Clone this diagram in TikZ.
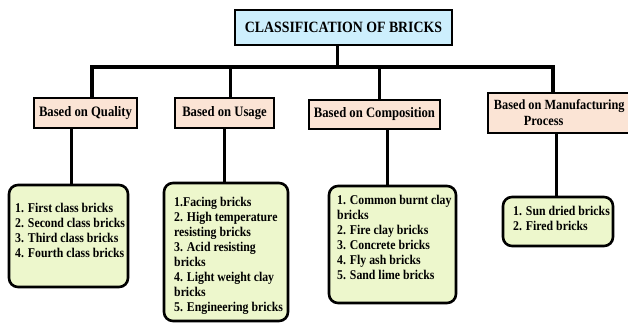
\documentclass[tikz,border=0pt]{standalone}
\usepackage{fontspec}
\setmainfont{Liberation Serif}[FakeStretch=0.88]
\definecolor{titleblue}{HTML}{CDEFFD}
\definecolor{peach}{HTML}{FBE4D5}
\definecolor{listgreen}{HTML}{EDF7CC}
\begin{document}
\begin{tikzpicture}[x=1pt,y=-1pt,
  titlebox/.style={draw, line width=1.8pt, fill=titleblue, font=\fontsize{15.7}{18}\selectfont\bfseries, inner sep=0pt},
  catbox/.style={draw, line width=1.8pt, fill=peach, font=\fontsize{14.4}{16}\selectfont\bfseries, inner sep=0pt},
  listbox/.style={draw, line width=2.6pt, fill=listgreen, rounded corners=9pt, inner sep=0pt},
  listtext/.style={anchor=north west, inner sep=0pt, align=left, font=\fontsize{13.4}{15}\selectfont\bfseries},
  conn/.style={line width=3pt},
  bar/.style={line width=3.6pt, line join=miter}]
\useasboundingbox (0,0) rectangle (628,323);
\clip (0,0) rectangle (628,323);

% top
\node[titlebox, minimum width=217pt, minimum height=35pt] (title) at (343.5,27.5) {CLASSIFICATION OF BRICKS};

% categories
\node[catbox, minimum width=103pt, minimum height=30pt] (qual) at (85.5,113) {Based on Quality};
\node[catbox, minimum width=99pt, minimum height=30pt] (usage) at (224.5,113) {Based on Usage};
\node[catbox, minimum width=131pt, minimum height=29pt] (comp) at (374.5,114.5) {Based on Composition};
\node[catbox, anchor=west, minimum height=40pt, inner xsep=6pt, align=left,
      font=\fontsize{14}{16}\selectfont\bfseries] (mfg) at (487,113) {Based on Manufacturing\\\hspace*{30pt}Process};

% junction coordinates
\coordinate (jt) at (337,67);
\coordinate (jq) at (92,67);
\coordinate (ju) at (230,67);
\coordinate (jc) at (379,67);
\coordinate (jm) at (553,67);

\draw[conn] (jt |- title.south) -- (jt);
\draw[bar] (jq |- qual.north) -- (jq) -- (jm) -- (jm |- mfg.north);
\draw[conn] (ju) -- (ju |- usage.north);
\draw[conn] (jc) -- (jc |- comp.north);

% list boxes
\node[listbox, minimum width=119pt, minimum height=102pt] (qlist) at (68.5,236) {};
\node[listbox, minimum width=124pt, minimum height=138pt] (ulist) at (226,252) {};
\node[listbox, minimum width=127pt, minimum height=117pt] (clist) at (392.5,244.5) {};
\node[listbox, minimum width=110pt, minimum height=49pt] (mlist) at (558,221.5) {};

\coordinate (bq) at (71,0);
\coordinate (bu) at (224,0);
\coordinate (bc) at (387,0);
\coordinate (bm) at (556,0);
\draw[conn] (qual.south -| bq) -- (qlist.north -| bq);
\draw[conn] (usage.south -| bu) -- (ulist.north -| bu);
\draw[conn] (comp.south -| bc) -- (clist.north -| bc);
\draw[conn] (mfg.south -| bm) -- (mlist.north -| bm);

% list texts
\node[listtext] (qtext) at (15,203) {1. First class bricks\\2. Second class bricks\\3. Third class bricks\\4. Fourth class bricks};
\node[listtext] (utext) at (174,197) {1.Facing bricks\\2. High temperature\\resisting bricks\\3. Acid resisting\\bricks\\4. Light weight clay\\bricks\\5. Engineering bricks};
\node[listtext] (ctext) at (337,195) {1. Common burnt clay\\bricks\\2. Fire clay bricks\\3. Concrete bricks\\4. Fly ash bricks\\5. Sand lime bricks};
\node[listtext] (mtext) at (513,206) {1. Sun dried bricks\\2. Fired bricks};
\end{tikzpicture}
\end{document}
